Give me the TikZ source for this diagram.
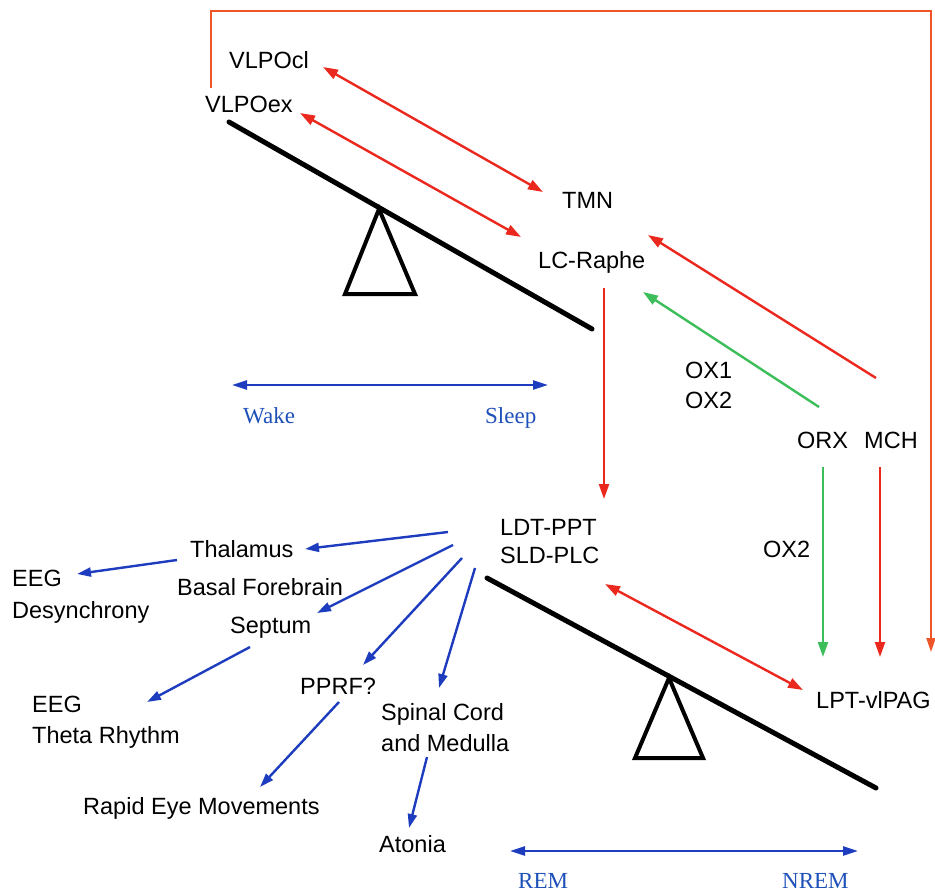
\documentclass[tikz,border=0pt]{standalone}
\usepackage{fontspec}
\setmainfont{Liberation Sans}
\newfontfamily\serifb{Liberation Serif}
\usetikzlibrary{arrows.meta}
\definecolor{myred}{RGB}{235,40,30}
\definecolor{framered}{RGB}{238,85,40}
\definecolor{mygreen}{RGB}{60,190,90}
\definecolor{myblue}{RGB}{30,60,190}
\definecolor{labblue}{RGB}{30,80,185}
\begin{document}
\begin{tikzpicture}[x=1pt,y=-1pt,
  lab/.style={anchor=base west,inner sep=0pt,font=\fontsize{23.5}{28}\selectfont},
  slab/.style={anchor=base west,inner sep=0pt,font=\serifb\fontsize{23}{28}\selectfont,text=labblue},
  beam/.style={line width=5pt,line cap=round},
  fulcrum/.style={line width=4pt,line join=miter},
  redarr/.style={draw=myred,line width=2.4pt,-{Triangle[length=15pt,width=10pt]}},
  redboth/.style={draw=myred,line width=2.4pt,{Triangle[length=15pt,width=10pt]}-{Triangle[length=15pt,width=10pt]}},
  framearr/.style={draw=framered,line width=2pt,-{Triangle[length=14pt,width=9pt]}},
  greenarr/.style={draw=mygreen,line width=2.4pt,-{Triangle[length=15pt,width=10pt]}},
  bluearr/.style={draw=myblue,line width=2.4pt,-{Triangle[length=14pt,width=9pt]}},
  blueboth/.style={draw=myblue,line width=2.4pt,{Triangle[length=15pt,width=9pt]}-{Triangle[length=15pt,width=9pt]}}
]
\useasboundingbox (0,0) rectangle (935,892);

% labels
\node[lab] (vlpocl) at (229,68) {VLPOcl};
\node[lab] (vlpoex) at (205,112) {VLPOex};
\node[lab] (tmn) at (562,208) {TMN};
\node[lab] (lcr) at (538,268) {LC-Raphe};
\node[lab] (ox1) at (685,378) {OX1};
\node[lab] (ox2a) at (685,408) {OX2};
\node[lab] (orx) at (797,448) {ORX};
\node[lab] (mch) at (864,448) {MCH};
\node[lab] (ox2b) at (763,557) {OX2};
\node[lab] (ldt) at (500,535) {LDT-PPT};
\node[lab] (sld) at (500,563) {SLD-PLC};
\node[lab] (lpt) at (816,708) {LPT-vlPAG};
\node[lab] (thal) at (190,557) {Thalamus};
\node[lab] (eeg1) at (12,586) {EEG};
\node[lab] (desync) at (12,618) {Desynchrony};
\node[lab] (basal) at (177,595) {Basal Forebrain};
\node[lab] (sept) at (230,633) {Septum};
\node[lab] (eeg2) at (32,712) {EEG};
\node[lab] (theta) at (32,743) {Theta Rhythm};
\node[lab] (pprf) at (300,694) {PPRF?};
\node[lab] (spinal) at (381,720) {Spinal Cord};
\node[lab] (medulla) at (381,751) {and Medulla};
\node[lab] (rapid) at (83,814) {Rapid Eye Movements};
\node[lab] (atonia) at (379,852) {Atonia};
\node[slab] (wake) at (243,423) {Wake};
\node[slab] (sleep) at (485,423) {Sleep};
\node[slab] (rem) at (518,888) {REM};
\node[slab] (nrem) at (782,888) {NREM};

% seesaws
\coordinate (b1a) at (229,122);
\coordinate (b1b) at (592,329);
\coordinate (t1a) at (379,209);
\coordinate (t1b) at (345,294);
\coordinate (t1c) at (415,294);
\draw[beam] (b1a) -- (b1b);
\draw[fulcrum] (t1a) -- (t1b) -- (t1c) -- cycle;
\coordinate (b2a) at (487,578);
\coordinate (b2b) at (876,788);
\coordinate (t2a) at (669,678);
\coordinate (t2b) at (635,758);
\coordinate (t2c) at (703,758);
\draw[beam] (b2a) -- (b2b);
\draw[fulcrum] (t2a) -- (t2b) -- (t2c) -- cycle;

% frame connector from VLPOex to LPT-vlPAG
\coordinate (f0) at (211,88);
\coordinate (f1) at (211,11);
\coordinate (f2) at (931,11);
\coordinate (f3) at (931,652);
\draw[framearr,line join=miter] (f0) -- (f1) -- (f2) -- (f3);

% red / green connectors
\coordinate (a1s) at (323,67);  \coordinate (a1e) at (543,192);
\draw[redboth] (a1s) -- (a1e);
\coordinate (a2s) at (300,113); \coordinate (a2e) at (521,237);
\draw[redboth] (a2s) -- (a2e);
\coordinate (a3s) at (876,378); \coordinate (a3e) at (648,235);
\draw[redarr] (a3s) -- (a3e);
\coordinate (a4s) at (819,407); \coordinate (a4e) at (643,292);
\draw[greenarr] (a4s) -- (a4e);
\coordinate (a5s) at (604,288); \coordinate (a5e) at (604,499);
\draw[redarr] (a5s) -- (a5e);
\coordinate (a6s) at (823,467); \coordinate (a6e) at (823,657);
\draw[greenarr] (a6s) -- (a6e);
\coordinate (a7s) at (880,467); \coordinate (a7e) at (880,657);
\draw[redarr] (a7s) -- (a7e);
\coordinate (a8s) at (605,584); \coordinate (a8e) at (803,690);
\draw[redboth] (a8s) -- (a8e);

% blue connectors
\coordinate (c1s) at (448,532); \coordinate (c1e) at (305,549);
\draw[bluearr] (c1s) -- (c1e);
\coordinate (c2s) at (177,560); \coordinate (c2e) at (77,574);
\draw[bluearr] (c2s) -- (c2e);
\coordinate (c3s) at (453,545); \coordinate (c3e) at (317,613);
\draw[bluearr] (c3s) -- (c3e);
\coordinate (c4s) at (250,647); \coordinate (c4e) at (147,702);
\draw[bluearr] (c4s) -- (c4e);
\coordinate (c5s) at (462,558); \coordinate (c5e) at (363,665);
\draw[bluearr] (c5s) -- (c5e);
\coordinate (c6s) at (339,702); \coordinate (c6e) at (260,787);
\draw[bluearr] (c6s) -- (c6e);
\coordinate (c7s) at (475,568); \coordinate (c7e) at (439,688);
\draw[bluearr] (c7s) -- (c7e);
\coordinate (c8s) at (427,757); \coordinate (c8e) at (409,828);
\draw[bluearr] (c8s) -- (c8e);

% scale arrows
\coordinate (wsL) at (232,385); \coordinate (wsR) at (548,385);
\draw[blueboth] (wsL) -- (wsR);
\coordinate (rnL) at (510,851); \coordinate (rnR) at (858,851);
\draw[blueboth] (rnL) -- (rnR);
\end{tikzpicture}
\end{document}
